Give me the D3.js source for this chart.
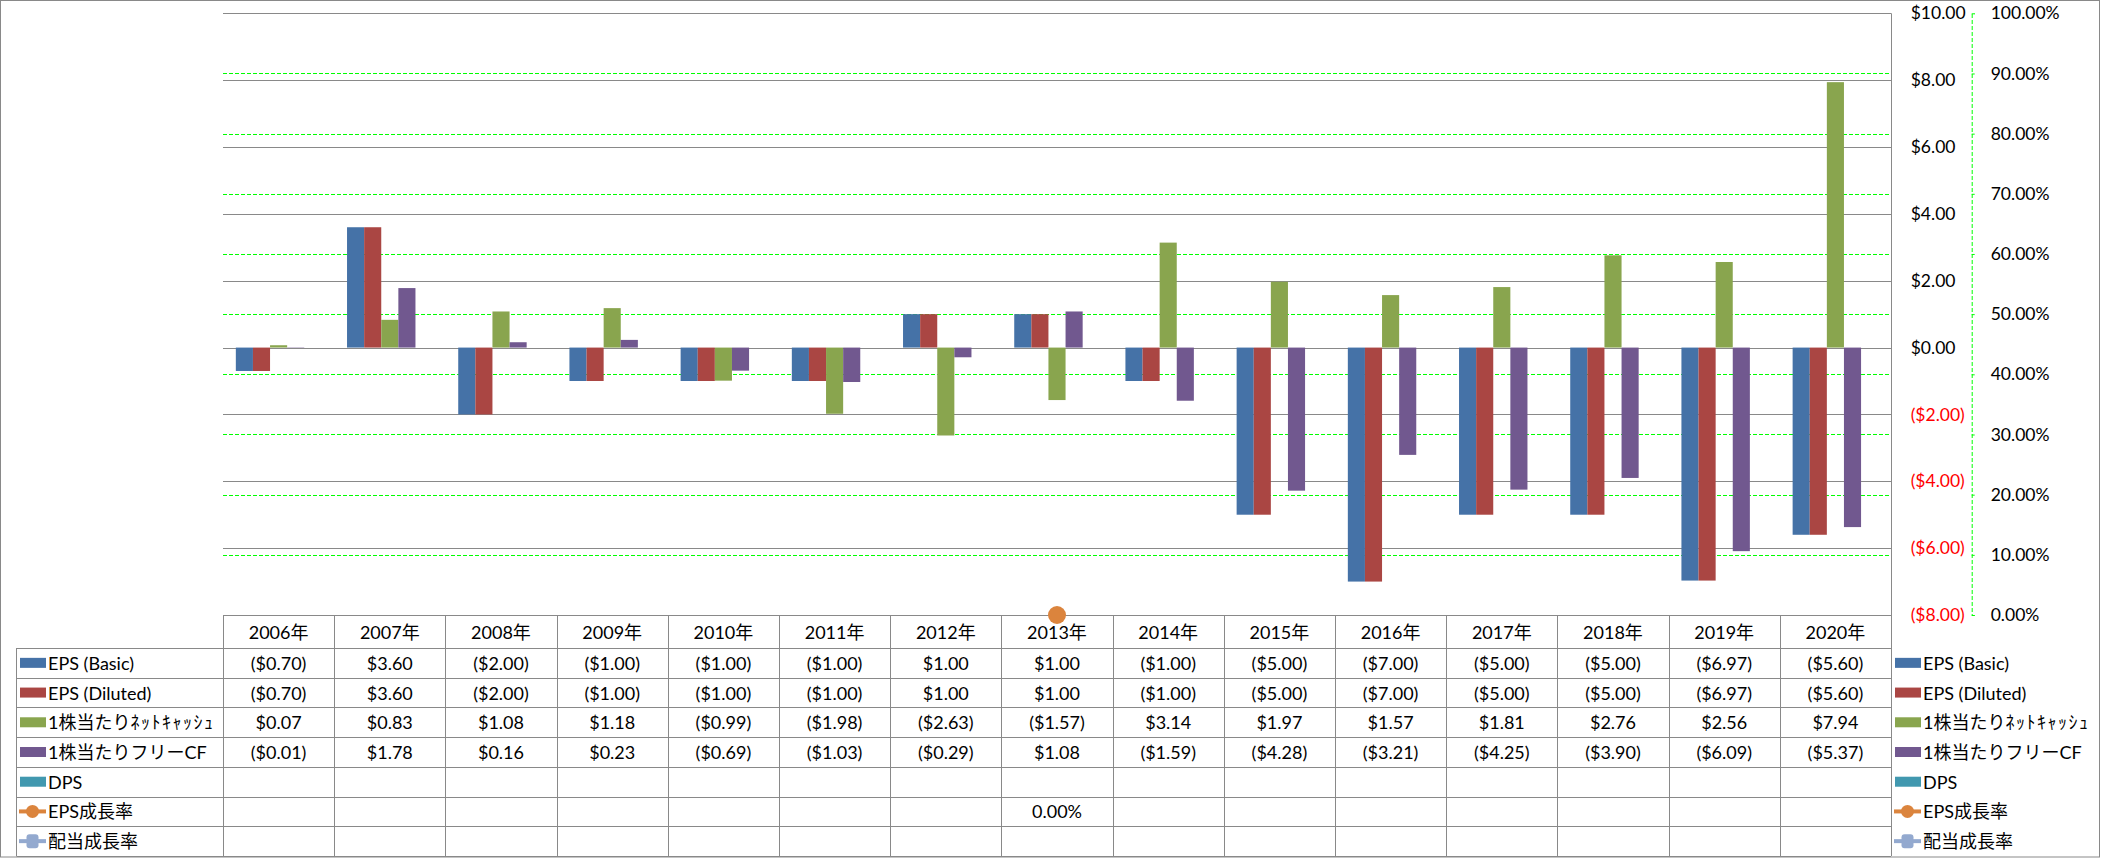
<!DOCTYPE html>
<html>
<head>
<meta charset="utf-8">
<script src="https://cdn.jsdelivr.net/npm/d3@7"></script>
<style>
  html, body { margin: 0; padding: 0; background: #fff; }
  svg { display: block; }
  text { font-family: Lato, "Noto Sans CJK JP", sans-serif; fill: #000; }
</style>
</head>
<body>
<svg id="chart" width="2101" height="858"></svg>
<script>
// ---------------- data ----------------
const years = ["2006年","2007年","2008年","2009年","2010年","2011年","2012年","2013年","2014年","2015年","2016年","2017年","2018年","2019年","2020年"];
const epsBasic   = [-0.70, 3.60, -2.00, -1.00, -1.00, -1.00, 1.00, 1.00, -1.00, -5.00, -7.00, -5.00, -5.00, -6.97, -5.60];
const epsDiluted = [-0.70, 3.60, -2.00, -1.00, -1.00, -1.00, 1.00, 1.00, -1.00, -5.00, -7.00, -5.00, -5.00, -6.97, -5.60];
const netCashPS  = [0.07, 0.83, 1.08, 1.18, -0.99, -1.98, -2.63, -1.57, 3.14, 1.97, 1.57, 1.81, 2.76, 2.56, 7.94];
const fcfPS      = [-0.01, 1.78, 0.16, 0.23, -0.69, -1.03, -0.29, 1.08, -1.59, -4.28, -3.21, -4.25, -3.90, -6.09, -5.37];
const dps        = [null, null, null, null, null, null, null, null, null, null, null, null, null, null, null];
const epsGrowth  = [null, null, null, null, null, null, null, 0.00, null, null, null, null, null, null, null];
const divGrowth  = [null, null, null, null, null, null, null, null, null, null, null, null, null, null, null];

const seriesNames = ["EPS (Basic)", "EPS (Diluted)", "1株当たりﾈｯﾄｷｬｯｼｭ", "1株当たりフリーCF", "DPS", "EPS成長率", "配当成長率"];
const seriesColors = ["#4572A7", "#AA4643", "#89A54E", "#71588F", "#4198AF", "#DB843D", "#93A9CF"];
const barSeries = [epsBasic, epsDiluted, netCashPS, fcfPS, dps];
const lineSeries = [epsGrowth, divGrowth];
const dollarTicks = [-8, -6, -4, -2, 0, 2, 4, 6, 8, 10];
const pctTicks = [0, 0.1, 0.2, 0.3, 0.4, 0.5, 0.6, 0.7, 0.8, 0.9, 1.0];

// ---------------- layout ----------------
const W = 2101, H = 858;
const plotL = 223, plotR = 1891, plotT = 13.3, plotB = 615;
const headerH = 33, tableB = 856;
const labelL = 16.5;
const fontSize = 18;

const svg = d3.select("#chart");

const x = d3.scaleBand().domain(years).range([plotL, plotR]).padding(0);
const xs = d3.scaleBand().domain(d3.range(barSeries.length)).range([0, x.bandwidth()])
  .paddingInner(0).paddingOuter(0.75);
const y = d3.scaleLinear().domain([-8, 10]).range([plotB, plotT]);
const yPct = d3.scaleLinear().domain([0, 1]).range([plotB, plotT]);

const gray = "#898989";
const fmtD = d3.format("$.2f");
const fmtDollar = v => v < 0 ? "(" + fmtD(-v) + ")" : fmtD(v);
const fmtPct = d3.format(".2%");

// outer border
svg.append("rect").attr("x", 0.5).attr("y", 0.5).attr("width", W - 2).attr("height", H - 1.5)
  .attr("fill", "#fff").attr("stroke", gray).attr("stroke-width", 1);

// gray gridlines ($)
svg.append("g").selectAll("line").data(dollarTicks).join("line")
  .attr("x1", plotL).attr("x2", plotR)
  .attr("y1", d => Math.round(y(d)) + 0.5).attr("y2", d => Math.round(y(d)) + 0.5)
  .attr("stroke", gray).attr("stroke-width", 1);

// green dashed gridlines (%)
svg.append("g").selectAll("line").data(pctTicks.filter(d => d > 0 && d < 1)).join("line")
  .attr("x1", plotL).attr("x2", plotR)
  .attr("y1", d => Math.round(yPct(d)) + 0.5).attr("y2", d => Math.round(yPct(d)) + 0.5)
  .attr("stroke", "#00FF00").attr("stroke-width", 1).attr("stroke-dasharray", "4,2");

// bars
barSeries.forEach((vals, si) => {
  svg.append("g").attr("fill", seriesColors[si]).selectAll("rect")
    .data(vals.map((v, i) => ({ v, yr: years[i] })).filter(d => d.v !== null))
    .join("rect")
    .attr("x", d => x(d.yr) + xs(si))
    .attr("width", xs.bandwidth())
    .attr("y", d => y(Math.max(0, d.v)))
    .attr("height", d => Math.abs(y(d.v) - y(0)));
});

// right vertical line of plot / table
svg.append("line").attr("x1", plotR + 0.5).attr("x2", plotR + 0.5).attr("y1", plotT).attr("y2", tableB)
  .attr("stroke", gray);

// $ axis (displayed on right)
const axD = svg.append("g").attr("transform", `translate(1910.7,0)`)
  .call(d3.axisRight(y).tickValues(dollarTicks).tickSize(0).tickPadding(0).tickFormat(fmtDollar));
axD.select(".domain").remove();
axD.selectAll("text").attr("font-size", 17.5).attr("font-family", null)
  .style("fill", d => d < 0 ? "#FF0000" : "#000");

// % axis
const axP = svg.append("g").attr("transform", `translate(1971.7,0)`)
  .call(d3.axisRight(yPct).tickValues(pctTicks).tickSize(3).tickPadding(16).tickFormat(fmtPct));
axP.select(".domain").attr("stroke", "#00FF00").attr("stroke-dasharray", "4,2");
axP.selectAll(".tick line").attr("stroke", "#00FF00");
axP.selectAll("text").attr("font-size", 17.5).attr("font-family", null).style("fill", "#000");

// ---------------- data table ----------------
const table = svg.append("g");
const nRows = seriesNames.length;
const rowH = (tableB - (plotB + headerH)) / nRows;
const rowY = i => plotB + headerH + i * rowH;

// horizontal lines
table.append("line").attr("x1", plotL).attr("x2", plotR).attr("y1", plotB + 0.5).attr("y2", plotB + 0.5).attr("stroke", gray);
d3.range(nRows + 1).forEach(i => {
  const yy = Math.round(rowY(i)) + 0.5;
  table.append("line").attr("x1", labelL).attr("x2", plotR).attr("y1", yy).attr("y2", yy).attr("stroke", gray);
});
// vertical lines
table.append("line").attr("x1", labelL).attr("x2", labelL).attr("y1", rowY(0)).attr("y2", tableB).attr("stroke", gray);
years.forEach(yr => {
  const xx = Math.round(x(yr)) + 0.5;
  table.append("line").attr("x1", xx).attr("x2", xx).attr("y1", plotB).attr("y2", tableB).attr("stroke", gray);
});

// header text
table.selectAll("text.hdr").data(years).join("text").attr("class", "hdr")
  .attr("x", d => x(d) + x.bandwidth() / 2).attr("y", plotB + headerH / 2)
  .attr("text-anchor", "middle").attr("dominant-baseline", "central")
  .attr("font-size", fontSize).text(d => d);

// cell values
const allRows = [...barSeries, ...lineSeries];
allRows.forEach((vals, ri) => {
  const fmt = ri < barSeries.length ? fmtDollar : fmtPct;
  table.append("g").selectAll("text")
    .data(vals.map((v, i) => ({ v, yr: years[i] })).filter(d => d.v !== null))
    .join("text")
    .attr("x", d => x(d.yr) + x.bandwidth() / 2)
    .attr("y", rowY(ri) + rowH / 2)
    .attr("text-anchor", "middle").attr("dominant-baseline", "central")
    .attr("font-size", fontSize).text(d => fmt(d.v));
});

// series label: half-width katakana parts get slight extra spacing to match the reference
function writeLabel(t, name) {
  const parts = name.match(/[\uFF61-\uFF9F]+|[^\uFF61-\uFF9F]+/g) || [name];
  parts.forEach(p => {
    const ts = t.append("tspan").text(p);
    if (/[\uFF61-\uFF9F]/.test(p)) ts.attr("letter-spacing", 1.5);
  });
}

// legend keys (left, in table) and right legend
function drawKey(g, i, kx, cy) {
  const col = seriesColors[i];
  if (i < barSeries.length) {
    g.append("rect").attr("x", kx).attr("y", cy - 5).attr("width", 26).attr("height", 10).attr("fill", col);
  } else {
    g.append("line").attr("x1", kx - 1).attr("x2", kx + 26).attr("y1", cy).attr("y2", cy)
      .attr("stroke", col).attr("stroke-width", 4);
    if (i === 5) {
      g.append("circle").attr("cx", kx + 12.5).attr("cy", cy).attr("r", 6.5).attr("fill", col);
    } else {
      g.append("rect").attr("x", kx + 6.5).attr("y", cy - 7).attr("width", 12).attr("height", 14)
        .attr("rx", 3).attr("fill", col);
    }
  }
}
seriesNames.forEach((name, i) => {
  const cy = rowY(i) + rowH / 2;
  const gL = table.append("g");
  drawKey(gL, i, 20, cy);
  writeLabel(gL.append("text").attr("x", 48).attr("y", cy).attr("dominant-baseline", "central")
    .attr("font-size", fontSize), name);
  const gR = table.append("g");
  drawKey(gR, i, 1895, cy);
  writeLabel(gR.append("text").attr("x", 1923).attr("y", cy).attr("dominant-baseline", "central")
    .attr("font-size", fontSize), name);
});

// EPS growth markers on % axis
svg.append("g").selectAll("circle")
  .data(epsGrowth.map((v, i) => ({ v, yr: years[i] })).filter(d => d.v !== null))
  .join("circle")
  .attr("cx", d => x(d.yr) + x.bandwidth() / 2)
  .attr("cy", d => yPct(d.v))
  .attr("r", 9).attr("fill", seriesColors[5]);
</script>
</body>
</html>
